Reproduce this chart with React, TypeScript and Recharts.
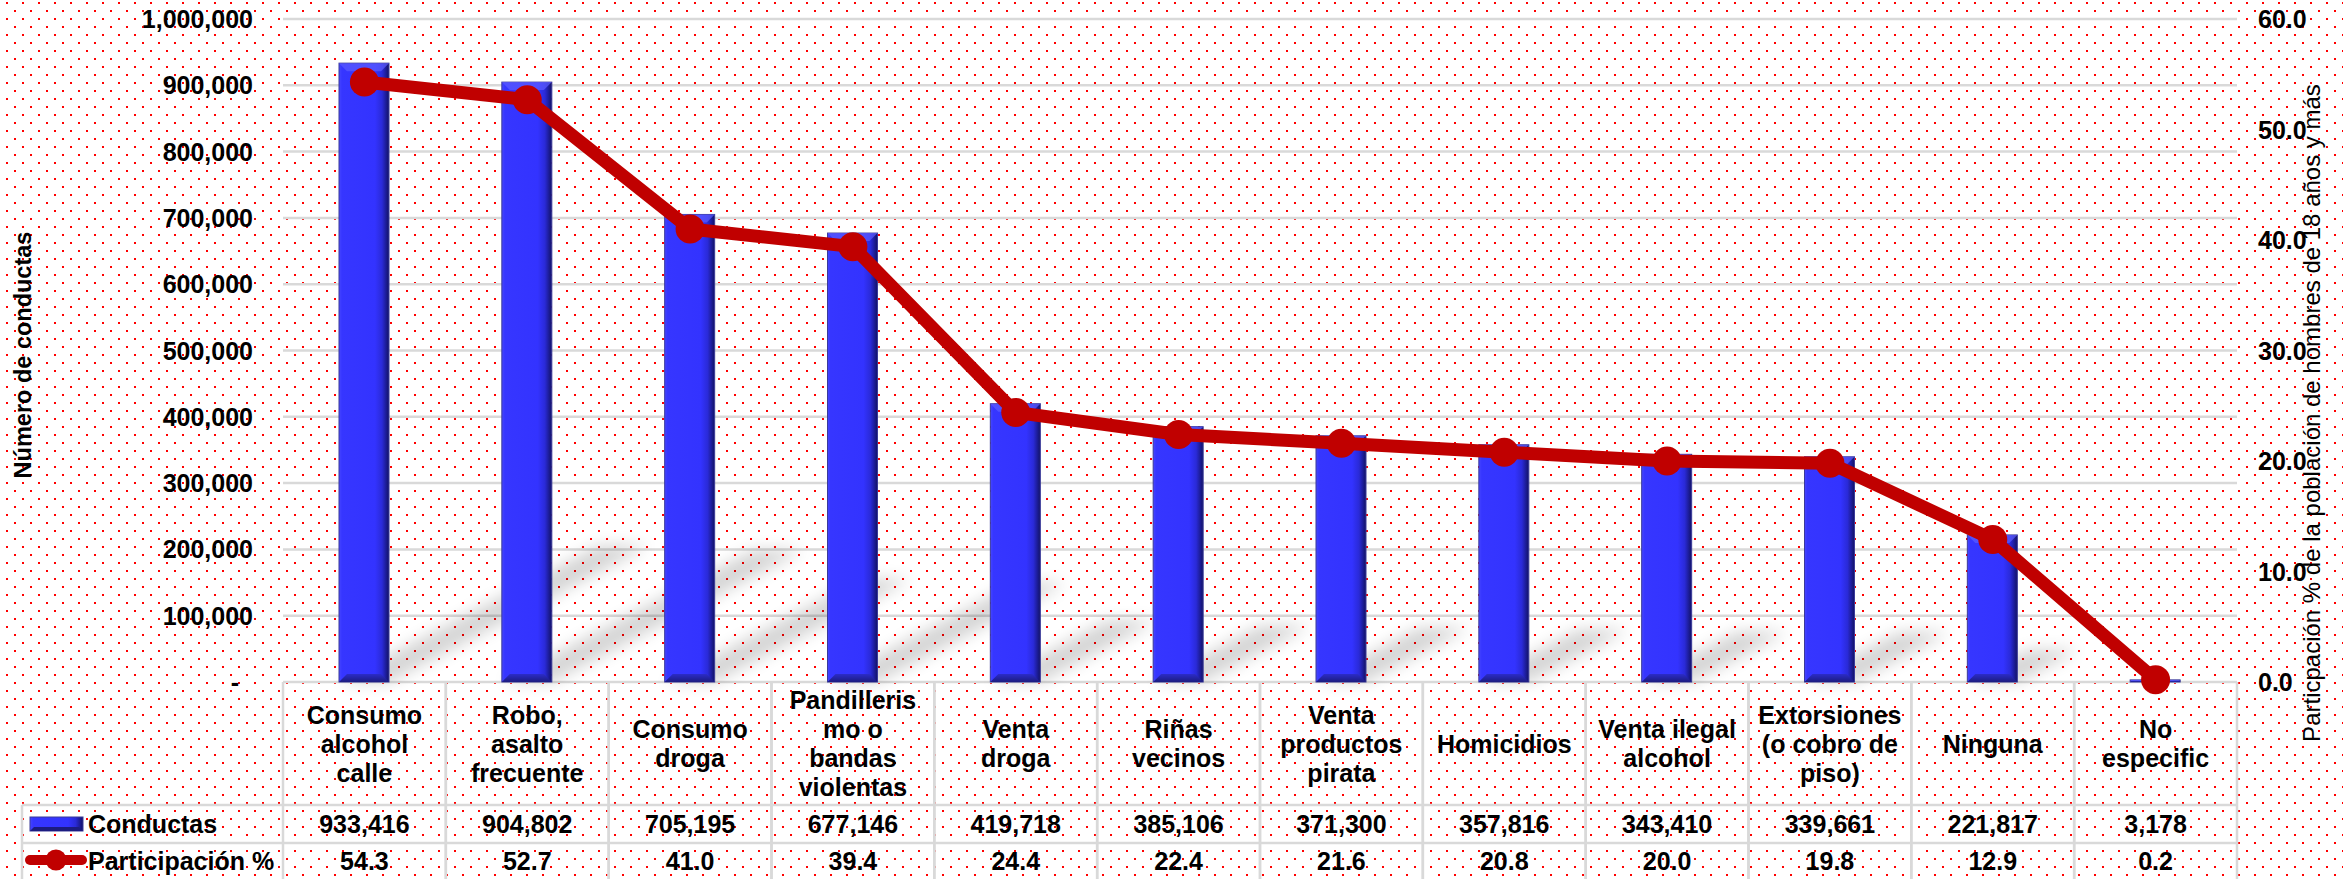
import React from 'react';
import { ComposedChart, Bar, Line, XAxis, YAxis, CartesianGrid } from 'recharts';

const CATEGORIES = [
  'Consumo\nalcohol\ncalle',
  'Robo,\nasalto\nfrecuente',
  'Consumo\ndroga',
  'Pandilleris\nmo o\nbandas\nviolentas',
  'Venta\ndroga',
  'Riñas\nvecinos',
  'Venta\nproductos\npirata',
  'Homicidios',
  'Venta ilegal\nalcohol',
  'Extorsiones\n(o cobro de\npiso)',
  'Ninguna',
  'No\nespecific',
];
const CONDUCTAS = [933416, 904802, 705195, 677146, 419718, 385106, 371300, 357816, 343410, 339661, 221817, 3178];
const PARTICIPACION = [54.3, 52.7, 41.0, 39.4, 24.4, 22.4, 21.6, 20.8, 20.0, 19.8, 12.9, 0.2];
const LEFT_TICKS = [0, 100000, 200000, 300000, 400000, 500000, 600000, 700000, 800000, 900000, 1000000];
const RIGHT_TICKS = [0, 10, 20, 30, 40, 50, 60];

const SERIES_BAR = 'Conductas';
const SERIES_LINE = 'Participación %';
const LEFT_TITLE = 'Número de conductas';
const RIGHT_TITLE = 'Particpación % de la población de hombres de 18 años y más';

const W = 2343;
const H = 879;
const FONT = "'Liberation Sans', Arial, sans-serif";
const GRID = '#d9d9d9';
const BLUE = '#3333ff';
const RED = '#c00000';

const PLOT_LEFT = 283;
const PLOT_RIGHT = 106;
const COL_W = (W - PLOT_LEFT - PLOT_RIGHT) / CATEGORIES.length;

const data = CATEGORIES.map((name, i) => ({
  name,
  conductas: CONDUCTAS[i],
  pct: PARTICIPACION[i],
}));

const fmt = (v: number) => v.toLocaleString('en-US');

const dotted = `url("data:image/svg+xml,%3Csvg xmlns='http://www.w3.org/2000/svg' width='16' height='16'%3E%3Crect x='6' y='2' width='2' height='2' fill='%23ff0000'/%3E%3Crect x='14' y='10' width='2' height='2' fill='%23ff0000'/%3E%3C/svg%3E")`;

const BevelBar = (props: any) => {
  const { x, y, width, height } = props;
  if (width == null || height == null) return null;
  const h = Math.max(height, 0);
  const y0 = y + h;
  const b = Math.min(8, h / 2, width / 4);
  const dx = 0.42 * h;
  const dy = 0.22 * h;
  return (
    <g>
      <defs>
        <linearGradient id="barSide" x1="0" y1="0" x2="1" y2="0">
          <stop offset="0%" stopColor="#4646ff" />
          <stop offset="6%" stopColor="#3636ff" />
          <stop offset="72%" stopColor="#3333ff" />
          <stop offset="86%" stopColor="#2a2ad8" />
          <stop offset="100%" stopColor="#121266" />
        </linearGradient>
        <linearGradient id="barBottom" x1="0" y1="0" x2="0" y2="1">
          <stop offset="0%" stopColor="#2c2cc8" />
          <stop offset="100%" stopColor="#1c1c80" />
        </linearGradient>
        <filter id="barShadow" x="-50%" y="-50%" width="200%" height="200%">
          <feGaussianBlur stdDeviation="8" />
        </filter>
      </defs>
      {h > 4 && (
        <polygon
          points={`${x},${y0} ${x + width},${y0} ${x + width + dx},${y0 - dy} ${x + dx},${y0 - dy}`}
          fill="#000"
          opacity={0.17}
          filter="url(#barShadow)"
        />
      )}
      <rect x={x} y={y} width={width} height={h} fill="url(#barSide)" stroke="#3a3a9a" strokeWidth={1} />
      {b > 1 && (
        <>
          <polygon
            points={`${x},${y} ${x + width},${y} ${x + width - b},${y + b} ${x + b},${y + b}`}
            fill="#5c5cff"
            opacity={0.7}
          />
          <polygon
            points={`${x},${y0} ${x + width},${y0} ${x + width - b},${y0 - b} ${x + b},${y0 - b}`}
            fill="url(#barBottom)"
          />
        </>
      )}
    </g>
  );
};

const textStyle = { fontFamily: FONT, fontSize: 25, fontWeight: 700, fill: '#000' };

const LeftTick = (props: any) => {
  const { x, y, payload } = props;
  if (payload.value === 0) {
    return (
      <text x={x - 18} y={y} textAnchor="middle" dominantBaseline="central" {...textStyle}>
        -
      </text>
    );
  }
  return (
    <text x={x} y={y} textAnchor="end" dominantBaseline="central" {...textStyle}>
      {fmt(payload.value)}
    </text>
  );
};

const RightTick = (props: any) => {
  const { x, y, payload } = props;
  return (
    <text x={x} y={y} textAnchor="start" dominantBaseline="central" {...textStyle}>
      {Number(payload.value).toFixed(1)}
    </text>
  );
};

// data table under the plot, one column per category tick
const TableTick = (props: any) => {
  const { x, y, payload } = props;
  const i = props.index ?? payload.index ?? CATEGORIES.indexOf(payload.value);
  const left = x - COL_W / 2;
  const right = x + COL_W / 2;
  const row1 = y + 123;
  const row2 = y + 161;
  const bottom = y + 200;
  const lines = String(payload.value).split('\n');
  const mid = y + 61.5;
  const lh = 29;
  return (
    <g>
      <line x1={left} y1={y} x2={left} y2={bottom} stroke={GRID} strokeWidth={2.5} />
      <line x1={right} y1={y} x2={right} y2={bottom} stroke={GRID} strokeWidth={2.5} />
      <line x1={left} y1={row1} x2={right} y2={row1} stroke={GRID} strokeWidth={2.5} />
      <line x1={left} y1={row2} x2={right} y2={row2} stroke={GRID} strokeWidth={2.5} />
      {lines.map((ln, k) => (
        <text
          key={k}
          x={x}
          y={mid + (k - (lines.length - 1) / 2) * lh}
          textAnchor="middle"
          dominantBaseline="central"
          {...textStyle}
        >
          {ln}
        </text>
      ))}
      <text x={x} y={(row1 + row2) / 2} textAnchor="middle" dominantBaseline="central" {...textStyle}>
        {fmt(CONDUCTAS[i])}
      </text>
      <text x={x} y={row2 + 18} textAnchor="middle" dominantBaseline="central" {...textStyle}>
        {PARTICIPACION[i].toFixed(1)}
      </text>
      {i === 0 && (
        <g>
          <line x1={22} y1={row1} x2={left} y2={row1} stroke={GRID} strokeWidth={2.5} />
          <line x1={22} y1={row2} x2={left} y2={row2} stroke={GRID} strokeWidth={2.5} />
          <line x1={22} y1={row1} x2={22} y2={bottom} stroke={GRID} strokeWidth={2.5} />
          <rect x={30} y={row1 + 12} width={53} height={14} fill="url(#barSide)" stroke="#3a3a9a" strokeWidth={1} />
          <polygon
            points={`30,${row1 + 26} 83,${row1 + 26} 79,${row1 + 22} 34,${row1 + 22}`}
            fill="#1c1c80"
          />
          <text x={88} y={(row1 + row2) / 2} textAnchor="start" dominantBaseline="central" {...textStyle}>
            {SERIES_BAR}
          </text>
          <line x1={30} y1={row2 + 17} x2={82} y2={row2 + 17} stroke={RED} strokeWidth={10} strokeLinecap="round" />
          <circle cx={56} cy={row2 + 17} r={10.5} fill={RED} />
          <text x={88} y={row2 + 18} textAnchor="start" dominantBaseline="central" {...textStyle}>
            {SERIES_LINE}
          </text>
        </g>
      )}
    </g>
  );
};

const LeftTitle = () => (
  <text
    x={23}
    y={355}
    transform="rotate(-90 23 355)"
    textAnchor="middle"
    dominantBaseline="central"
    style={{ fontFamily: FONT, fontSize: 23.5, fontWeight: 700, fill: '#000' }}
  >
    {LEFT_TITLE}
  </text>
);

const RightTitle = () => (
  <text
    x={2311}
    y={413}
    transform="rotate(-90 2311 413)"
    textAnchor="middle"
    dominantBaseline="central"
    style={{ fontFamily: FONT, fontSize: 24, fontWeight: 400, fill: '#000' }}
  >
    {RIGHT_TITLE}
  </text>
);

export default function App() {
  return (
    <div
      style={{
        position: 'absolute',
        left: 0,
        top: 0,
        width: W,
        height: H,
        backgroundColor: '#fff',
        backgroundImage: dotted,
        overflow: 'hidden',
      }}
    >
      <ComposedChart width={W} height={H} data={data} margin={{ top: 19, right: 0, bottom: 0, left: 0 }}>
        <CartesianGrid yAxisId="left" vertical={false} stroke={GRID} strokeWidth={2.5} />
        <XAxis
          dataKey="name"
          interval={0}
          height={197}
          axisLine={false}
          tickLine={false}
          tickSize={0}
          tickMargin={0}
          tick={(p: any) => <TableTick {...p} />}
        />
        <YAxis
          yAxisId="left"
          orientation="left"
          width={PLOT_LEFT}
          domain={[0, 1000000]}
          ticks={LEFT_TICKS}
          interval={0}
          axisLine={false}
          tickLine={false}
          tickSize={0}
          tickMargin={30}
          tick={(p: any) => <LeftTick {...p} />}
          label={{ content: () => <LeftTitle /> }}
        />
        <YAxis
          yAxisId="right"
          orientation="right"
          width={PLOT_RIGHT}
          domain={[0, 60]}
          ticks={RIGHT_TICKS}
          interval={0}
          axisLine={false}
          tickLine={false}
          tickSize={0}
          tickMargin={21}
          tick={(p: any) => <RightTick {...p} />}
          label={{ content: () => <RightTitle /> }}
        />
        <Bar
          yAxisId="left"
          dataKey="conductas"
          name={SERIES_BAR}
          barSize={50}
          fill={BLUE}
          shape={(p: any) => <BevelBar {...p} />}
          isAnimationActive={false}
        />
        <Line
          yAxisId="right"
          dataKey="pct"
          name={SERIES_LINE}
          stroke={RED}
          strokeWidth={13}
          strokeLinejoin="round"
          dot={{ r: 14.5, fill: RED, stroke: RED, strokeWidth: 0 }}
          activeDot={false}
          isAnimationActive={false}
        />
      </ComposedChart>
    </div>
  );
}
